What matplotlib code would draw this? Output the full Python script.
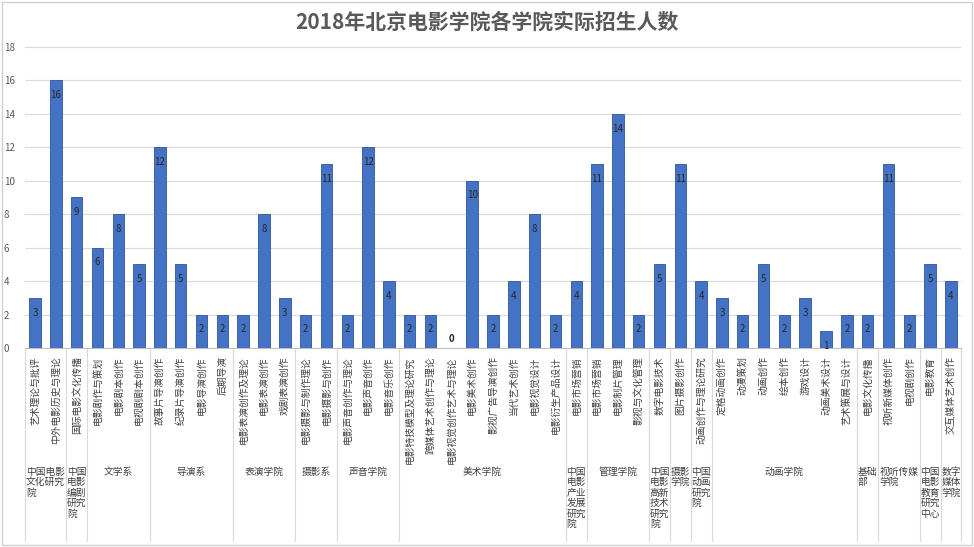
import matplotlib
matplotlib.use("Agg")
import matplotlib.pyplot as plt
import matplotlib.transforms as mtransforms
import numpy as np

plt.rcParams['font.family'] = ['Noto Sans CJK SC', 'DejaVu Sans']

title = "2018年北京电影学院各学院实际招生人数"

majors = ["艺术理论与批评", "中外电影历史与理论", "国际电影文化传播", "电影剧作与策划",
          "电影剧本创作", "电视剧剧本创作", "故事片导演创作", "纪录片导演创作",
          "电影导演创作", "后期导演", "电影表演创作及理论", "电影表演创作",
          "戏剧表演创作", "电影摄影与制作理论", "电影摄影与创作", "电影声音创作与理论",
          "电影声音创作", "电影音乐创作", "电影特技模型及理论研究", "跨媒体艺术创作与理论",
          "电影视觉创作艺术与理论", "电影美术创作", "影视广告导演创作", "当代艺术创作",
          "电影视觉设计", "电影衍生产品设计", "电影市场营销", "电影市场营销",
          "电影制片管理", "影视与文化管理", "数字电影技术", "图片摄影创作",
          "动画创作与理论研究", "定格动画创作", "动漫策划", "动画创作",
          "绘本创作", "游戏设计", "动画美术设计", "艺术策展与设计",
          "电影文化传播", "视听新媒体创作", "电视剧创作", "电影教育", "交互媒体艺术创作"]

counts = [3, 16, 9, 6, 8, 5, 12, 5, 2, 2, 2, 8, 3, 2, 11, 2, 12, 4, 2, 2, 0, 10,
          2, 4, 8, 2, 4, 11, 14, 2, 5, 11, 4, 3, 2, 5, 2, 3, 1, 2, 2, 11, 2, 5, 4]

schools = ["中国电影\n文化研究\n院", "中国\n电影\n编剧\n研究\n院", "文学系", "导演系",
           "表演学院", "摄影系", "声音学院", "美术学院", "中国\n电影\n产业\n发展\n研究\n院",
           "管理学院", "中国\n电影\n高新\n技术\n研究\n院", "摄影\n学院", "中国\n动画\n研究\n院",
           "动画学院", "基础\n部", "视听传媒\n学院", "中国\n电影\n教育\n研究\n中心",
           "数字\n媒体\n学院"]
school_sizes = [2, 1, 3, 4, 3, 2, 3, 8, 1, 3, 1, 1, 1, 7, 1, 2, 1, 1]

fig = plt.figure(figsize=(9.74, 5.47), dpi=100)
ax = fig.add_axes([0.0253, 0.3638, 0.9617, 0.5503])

x = np.arange(len(majors))
bars = ax.bar(x, counts, width=0.55, color='#4472C4', edgecolor='#2F5597', linewidth=0.6, zorder=3)

for xi, v in zip(x, counts):
    if v > 0:
        ax.annotate(str(v), (xi, v), xytext=(0, -7), textcoords='offset points',
                    ha='center', va='top', fontsize=7, color='#262626', zorder=4)
    else:
        ax.annotate(str(v), (xi, v), xytext=(0, 3), textcoords='offset points',
                    ha='center', va='bottom', fontsize=7, color='#262626',
                    fontweight='bold', zorder=4)

ax.set_xlim(-0.5, len(majors) - 0.5)
ax.set_ylim(0, 18)
ax.set_yticks(np.arange(0, 19, 2))
ax.tick_params(axis='y', length=0, labelsize=7, labelcolor='#595959', pad=15)
for lbl in ax.get_yticklabels():
    lbl.set_horizontalalignment('left')
ax.yaxis.grid(True, color='#D9D9D9', linewidth=0.8, zorder=0)
ax.set_xticks(x)
ax.set_xticklabels(majors, rotation=90, fontsize=7, color='#404040', va='top', ha='center')
ax.tick_params(axis='x', length=0, pad=6)
for s in ['top', 'right', 'left']:
    ax.spines[s].set_visible(False)
ax.spines['bottom'].set_color('#BFBFBF')

trans = mtransforms.blended_transform_factory(ax.transData, ax.transAxes)
edges = np.concatenate([[0], np.cumsum(school_sizes)]) - 0.5
for e in edges:
    ax.plot([e, e], [0, -0.64], transform=trans, color='#D9D9D9', linewidth=0.8, clip_on=False)
for i, name in enumerate(schools):
    mid = (edges[i] + edges[i + 1]) / 2
    ax.text(mid, -0.395, name, transform=trans, ha='center', va='top', fontsize=7,
            color='#404040', linespacing=1.05, multialignment='left')

fig.suptitle(title, y=0.978, fontsize=15, fontweight='bold', color='#595959')

fig.patches.append(plt.Rectangle((0.002, 0.003), 0.996, 0.994, transform=fig.transFigure,
                                 fill=False, edgecolor='#D0D0D0', linewidth=1))

fig.savefig("out.png", dpi=100)
